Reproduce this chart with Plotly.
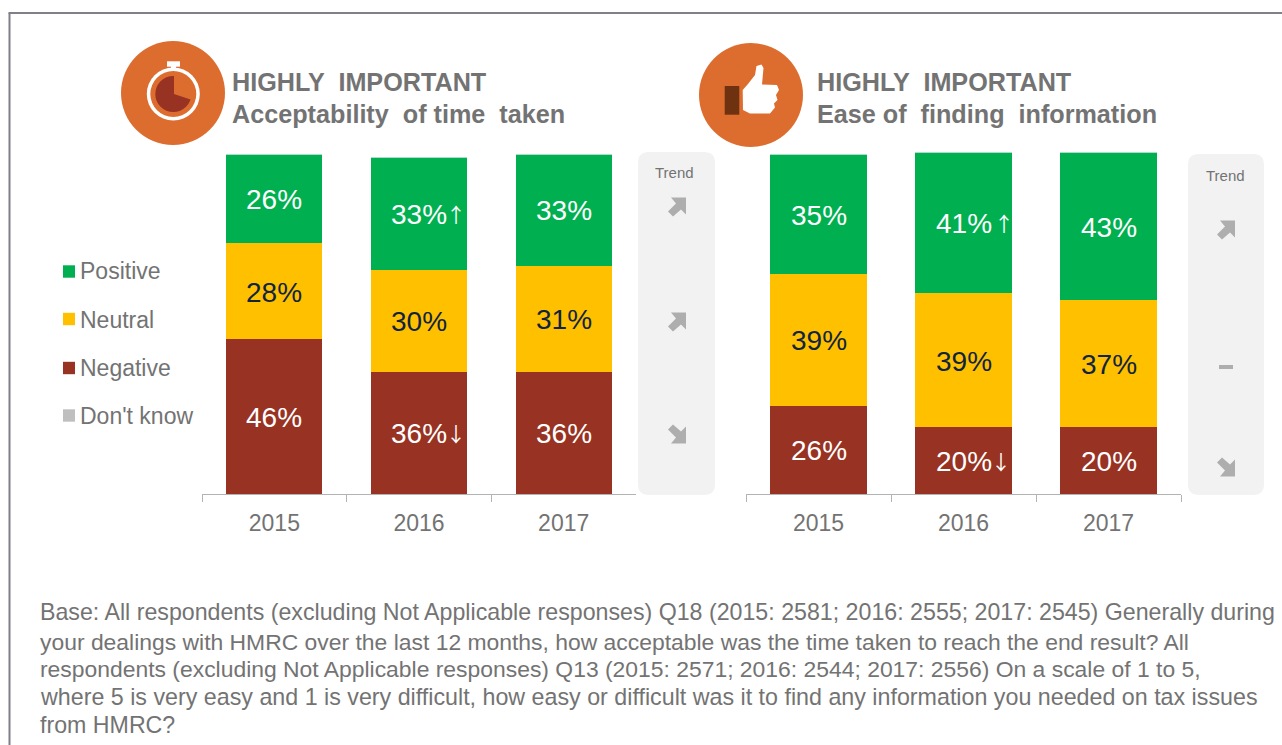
import plotly.graph_objects as go

W, H = 1282, 745

# ---- data ----
years = ["2015", "2016", "2017"]
time_negative = [45.6, 35.9, 35.9]
time_neutral = [28.2, 30.0, 31.2]
time_positive = [26.2, 33.2, 32.9]
info_negative = [25.9, 19.7, 19.7]
info_neutral = [38.8, 39.4, 37.4]
info_positive = [35.3, 41.4, 43.4]
dont_know = [0, 0, 0]

legend_names = ["Positive", "Neutral", "Negative", "Don't know"]
legend_colors = ["#00b050", "#ffc000", "#983222", "#bfbfbf"]
title_top = "HIGHLY  IMPORTANT"
title_left = "Acceptability  of time  taken"
title_right = "Ease of  finding  information"
footnote_lines = [
    "Base: All respondents (excluding Not Applicable responses) Q18 (2015: 2581; 2016: 2555; 2017: 2545) Generally during",
    "your dealings with HMRC over the last 12 months, how acceptable was the time taken to reach the end result? All",
    "respondents (excluding Not Applicable responses) Q13 (2015: 2571; 2016: 2544; 2017: 2556) On a scale of 1 to 5,",
    "where 5 is very easy and 1 is very difficult, how easy or difficult was it to find any information you needed on tax issues",
    "from HMRC?",
]

GREY = "#737373"
FONT = "Liberation Sans"
ORANGE = "#dd6d2f"
ARROW = "#aeaeae"


def px(x):
    return x / W


def py(y):
    return 1 - y / H


def poly(points, fill):
    d = "M" + " L".join(f"{px(x):.5f},{py(y):.5f}" for x, y in points) + " Z"
    return dict(type="path", xref="paper", yref="paper", path=d, fillcolor=fill, line_width=0, layer="above")


def rect(x0, y0, x1, y1, fill):
    return dict(type="rect", xref="paper", yref="paper", x0=px(x0), x1=px(x1), y0=py(y1), y1=py(y0),
                fillcolor=fill, line_width=0, layer="above")


def circle(cx, cy, r, fill):
    return dict(type="circle", xref="paper", yref="paper", x0=px(cx - r), x1=px(cx + r), y0=py(cy + r), y1=py(cy - r),
                fillcolor=fill, line_width=0, layer="above")


def rrect(x0, y0, x1, y1, r, fill):
    d = (f"M{px(x0 + r)},{py(y0)} L{px(x1 - r)},{py(y0)} Q{px(x1)},{py(y0)} {px(x1)},{py(y0 + r)} "
         f"L{px(x1)},{py(y1 - r)} Q{px(x1)},{py(y1)} {px(x1 - r)},{py(y1)} "
         f"L{px(x0 + r)},{py(y1)} Q{px(x0)},{py(y1)} {px(x0)},{py(y1 - r)} "
         f"L{px(x0)},{py(y0 + r)} Q{px(x0)},{py(y0)} {px(x0 + r)},{py(y0)} Z")
    return dict(type="path", xref="paper", yref="paper", path=d, fillcolor=fill, line_width=0, layer="below")


def arrow_up(cx, cy):
    pts = [(3, 0), (18, 0), (18, 17), (13, 12), (5, 19), (0, 14), (8, 6)]
    return poly([(cx - 9 + x, cy - 9.5 + y) for x, y in pts], ARROW)


def arrow_down(cx, cy):
    pts = [(3, 19), (18, 19), (18, 2), (13, 7), (5, 0), (0, 5), (8, 13)]
    return poly([(cx - 9 + x, cy - 9.5 + y) for x, y in pts], ARROW)


def note(x, y, text, size, color=GREY, anchor="left", bold=False):
    return dict(xref="paper", yref="paper", x=px(x), y=py(y), text=f"<b>{text}</b>" if bold else text,
                showarrow=False, xanchor=anchor, yanchor="middle",
                font=dict(family=FONT, size=size, color=color), borderpad=0)


fig = go.Figure()
annotations = []


def add_stack(neg, neu, pos, xa, ya):
    base = [0, 0, 0]
    for vals, color, txt, name in [
        (neg, legend_colors[2], "white", "Negative"),
        (neu, legend_colors[1], "#10243e", "Neutral"),
        (pos, legend_colors[0], "white", "Positive"),
    ]:
        fig.add_bar(x=years, y=vals, name=name, marker=dict(color=color, line_width=0),
                    xaxis=xa, yaxis=ya, showlegend=False)
        # value labels sit at each segment's centre on the value scale
        for i, v in enumerate(vals):
            annotations.append(dict(xref=xa, yref=ya, x=i, y=base[i] + v / 2, text=f"{round(v)}%", showarrow=False,
                                    yshift=-1, font=dict(family=FONT, size=28, color=txt)))
            base[i] += v
    fig.add_bar(x=years, y=dont_know, name="Don't know", marker_color=legend_colors[3], xaxis=xa, yaxis=ya,
                showlegend=False)


add_stack(time_negative, time_neutral, time_positive, "x", "y")
add_stack(info_negative, info_neutral, info_positive, "x2", "y2")

axis_x = dict(type="category", showline=True, linecolor="#b3b3b3", linewidth=1, ticks="outside",
              tickson="boundaries", ticklen=7, tickcolor="#b3b3b3", showgrid=False, zeroline=False,
              tickangle=0, tickfont=dict(family=FONT, size=23, color=GREY), ticklabelstandoff=8)
axis_y = dict(range=[0, 344 / 3.4], visible=False, fixedrange=True)

shapes = [
    # outer frame
    dict(type="line", xref="paper", yref="paper", x0=px(8.5), x1=1, y0=py(13), y1=py(13),
         line=dict(color="#808088", width=2), layer="below"),
    dict(type="line", xref="paper", yref="paper", x0=px(9.5), x1=px(9.5), y0=py(13), y1=0,
         line=dict(color="#808088", width=2), layer="below"),
    # trend panels
    rrect(638, 152, 715, 495, 11, "#f2f2f2"),
    rrect(1188, 154, 1264, 495, 11, "#f2f2f2"),
    # arrows
    arrow_up(677, 207), arrow_up(677, 322), arrow_down(677, 434),
    arrow_up(1226, 230), rect(1219, 365, 1233, 369, ARROW), arrow_down(1226, 467),
    # stopwatch icon
    circle(173, 93, 52, ORANGE),
    circle(173.3, 94, 26.5, "white"),
    circle(173.3, 94, 23, ORANGE),
    circle(173.3, 94, 18, "#983222"),
    poly([(174, 94), (174, 75.5), (183, 76), (189, 82), (192, 90), (192, 100)], ORANGE),
    rect(171, 65, 176, 70, "white"),
    rect(167, 61.3, 180, 66.7, "white"),
    # thumb icon
    circle(751, 95, 52, ORANGE),
    rect(724.7, 86, 739.3, 114.7, "#6f3210"),
    poly([(742.7, 90), (748, 84), (755, 75), (756.5, 66), (761.5, 64.5), (763.5, 68), (762, 84.5),
          (777, 85), (779, 90), (776, 95), (777.5, 100), (774, 103.5), (775, 107.5), (770, 113.5),
          (750, 113.5), (743, 110)], "white"),
]

for i, name in enumerate(legend_names):
    yc = [271.5, 319, 368, 415.5][i]
    shapes.append(rect(63, yc - 6.2, 75, yc + 6.2, legend_colors[i]))

annotations += [
    note(231, 82, title_top, 25.2, bold=True),
    note(231, 114, title_left, 25.2, bold=True),
    note(816, 82, title_top, 25.2, bold=True),
    note(816, 114, title_right, 25.2, bold=True),
    note(674.5, 172, "Trend", 15, anchor="center"),
    note(1225, 175, "Trend", 15, anchor="center"),
]
for i, name in enumerate(legend_names):
    annotations.append(note(79, [271, 320, 368, 416][i], name, 23))
for line, y, size in zip(footnote_lines, [612, 642, 669, 697, 725], [23.2, 22.9, 22.9, 23.25, 23.2]):
    annotations.append(note(39, y, line, size))

# change markers next to the 2016 labels, placed on the stacked value scale
i2016 = years.index("2016")
for xa, ya, neg, neu, pos, up_shift, down_shift in [
    ("x", "y", time_negative, time_neutral, time_positive, 37, 37),
    ("x2", "y2", info_negative, info_neutral, info_positive, 40, 37),
]:
    annotations.append(dict(xref=xa, yref=ya, x=i2016, y=neg[i2016] + neu[i2016] + pos[i2016] / 2, text="↑",
                            showarrow=False, xshift=up_shift, yshift=-1,
                            font=dict(family="Noto Sans CJK SC", size=20, color="white")))
    annotations.append(dict(xref=xa, yref=ya, x=i2016, y=neg[i2016] / 2, text="↓",
                            showarrow=False, xshift=down_shift, yshift=-1,
                            font=dict(family="Noto Sans CJK SC", size=20, color="white")))

fig.update_layout(
    width=W, height=H, autosize=False, margin=dict(l=0, r=0, t=0, b=0),
    barmode="stack", bargap=0.335, paper_bgcolor="white", plot_bgcolor="rgba(0,0,0,0)",
    showlegend=False,
    xaxis=dict(axis_x, domain=[px(202), px(636)], anchor="y", range=[-0.5, 2.5]),
    yaxis=dict(axis_y, domain=[py(494), py(150)], anchor="x"),
    xaxis2=dict(axis_x, domain=[px(746), px(1181)], anchor="y2", range=[-0.5, 2.5]),
    yaxis2=dict(axis_y, domain=[py(494), py(150)], anchor="x2"),
    shapes=shapes, annotations=annotations,
)

fig.write_html("out.html", config=dict(displayModeBar=False),
               post_script="document.body.style.margin='0';document.body.style.overflow='hidden';")
